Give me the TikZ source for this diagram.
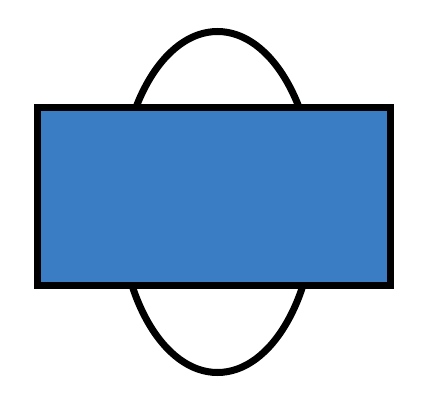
\documentclass[tikz,border=0pt]{standalone}
\usetikzlibrary{shapes.geometric}
\definecolor{boxblue}{HTML}{3B7DC4}
\tikzset{
  ring/.style={ellipse, draw=black, line width=7pt, minimum width=196pt, minimum height=341pt, inner sep=0pt, outer sep=0pt},
  bluebox/.style={rectangle, draw=black, fill=boxblue, line width=7pt, minimum width=353pt, minimum height=178pt, inner sep=0pt, outer sep=0pt}
}
\begin{document}
\begin{tikzpicture}[x=1pt,y=-1pt]
\useasboundingbox (0,0) rectangle (421,415);
\node[ring] (ring) at (217.5,202) {};
\node[bluebox] (box) at (214,196.5) {};
\end{tikzpicture}
\end{document}
